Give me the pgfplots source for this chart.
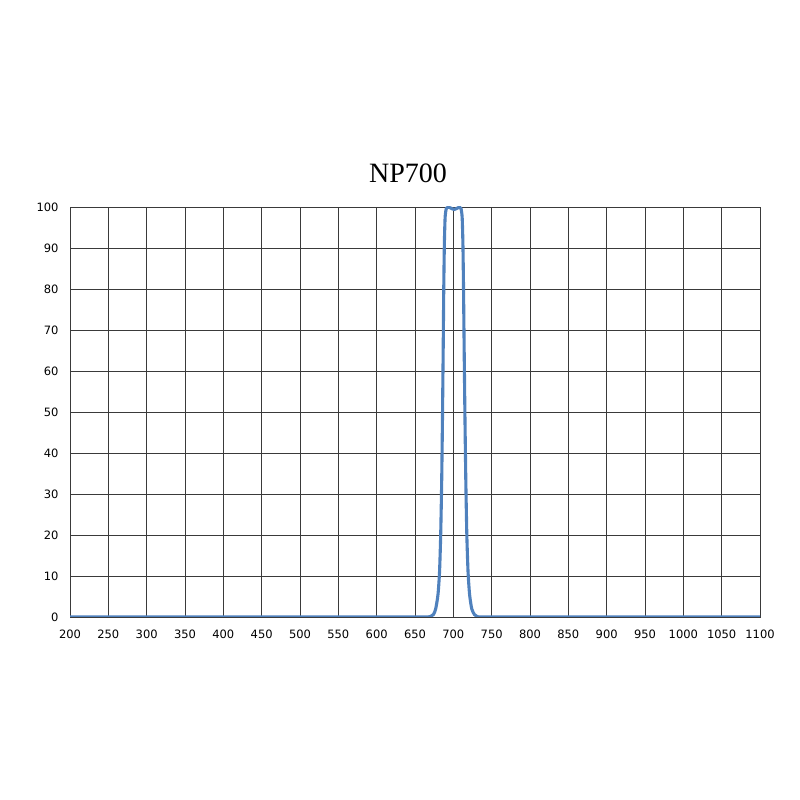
\documentclass[border=0pt]{standalone}
\usepackage{pgfplots}
\pgfplotsset{compat=1.18}
\usepackage{fontspec}
\setmainfont{DejaVu Sans}
\newfontfamily\titlefont{Liberation Serif}
\definecolor{curve}{HTML}{4F81BD}
\definecolor{gridc}{HTML}{3A3A3A}
\begin{document}
\begin{tikzpicture}[x=1pt,y=1pt]
\fill[white] (0,0) rectangle (800,800);
\node[font=\titlefont\fontsize{28}{30}\selectfont, anchor=base] at (408,617) {NP700};
\begin{axis}[
  at={(70pt,183pt)}, anchor=south west,
  scale only axis, width=690pt, height=410pt,
  xmin=200, xmax=1100, ymin=0, ymax=100,
  xtick={200,250,...,1100}, ytick={0,10,...,100},
  grid=major,
  major grid style={gridc, line width=0.9pt},
  axis line style={gridc, line width=0.9pt},
  tick style={draw=none},
  tick label style={font=\fontsize{11.5}{13}\selectfont},
  /pgf/number format/assume math mode=true,
  /pgf/number format/1000 sep={},
  xticklabel style={yshift=-9pt},
  yticklabel style={xshift=-8pt},
  clip=true,
]
\addplot[curve, line width=3.1pt, smooth, tension=0.4] coordinates {
(200,0) (400,0) (600,0) (660,0) (670,0.1) (674,0.6) (677,2) (680,5.5) (682,11)
(683.5,20) (684.8,33) (685.8,48) (686.7,64) (687.5,80) (688.3,91) (689.3,97.5)
(690.8,99.6) (693,100) (697,99.7) (701,99.4) (705,99.7) (708,100) (710,99.6)
(711.5,97.5) (712.5,91) (713.3,80) (714.2,64) (715.2,48) (716.3,33) (717.6,20)
(719.2,11) (721.2,5.5) (724,2) (727.5,0.6) (731,0.1) (740,0) (800,0) (1000,0) (1100,0)
};
\end{axis}
\end{tikzpicture}
\end{document}
